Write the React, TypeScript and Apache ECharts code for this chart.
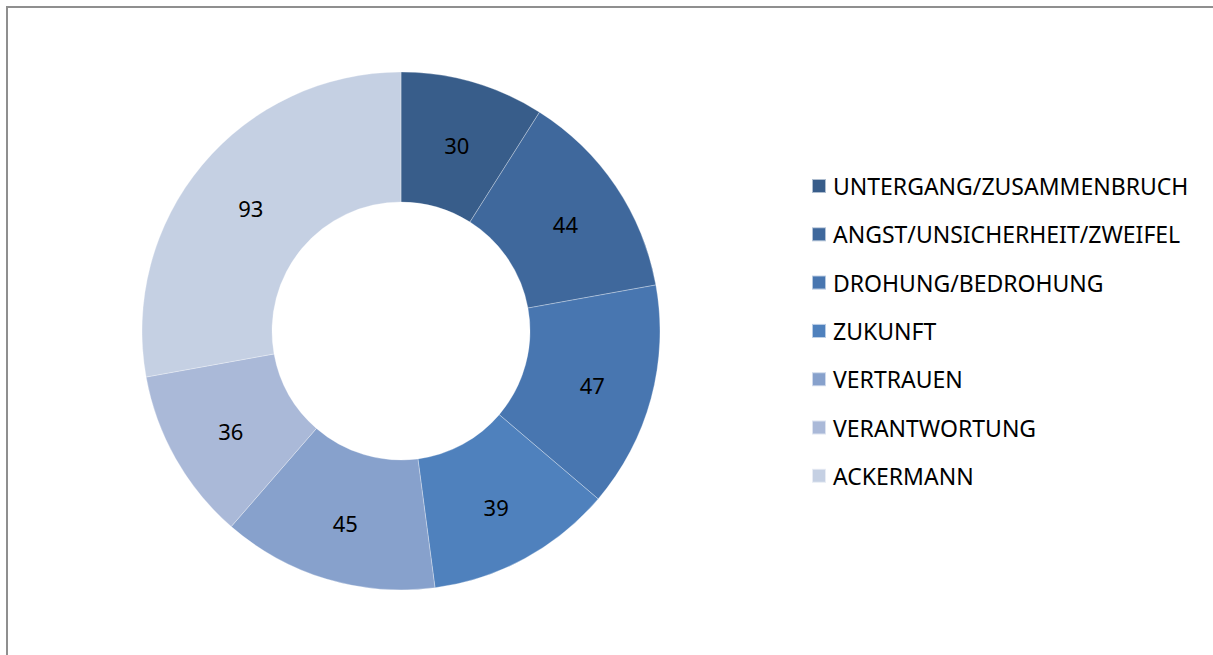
import React, { useEffect, useRef } from "react";
import * as echarts from "echarts";

const categories = [
  "UNTERGANG/ZUSAMMENBRUCH",
  "ANGST/UNSICHERHEIT/ZWEIFEL",
  "DROHUNG/BEDROHUNG",
  "ZUKUNFT",
  "VERTRAUEN",
  "VERANTWORTUNG",
  "ACKERMANN",
];
const values = [30, 44, 47, 39, 45, 36, 93];
const colors = ["#385D8A", "#3F689C", "#4876B0", "#4F81BD", "#87A1CC", "#AAB9D8", "#C5D0E3"];

export default function App() {
  const ref = useRef<HTMLDivElement>(null);
  useEffect(() => {
    if (!ref.current) return;
    const chart = echarts.init(ref.current, null, { renderer: "svg" });
    chart.setOption({
      animation: false,
      backgroundColor: "#ffffff",
      color: colors,
      graphic: [
        {
          type: "rect",
          shape: { x: 7, y: 7, width: 1300, height: 700 },
          style: { fill: "none", stroke: "#8f8f8f", lineWidth: 2 },
          silent: true,
        },
      ],
      legend: {
        orient: "vertical",
        left: 806,
        top: 169.5,
        itemWidth: 14,
        itemHeight: 14,
        itemGap: 25.3,
        icon: "rect",
        textStyle: { fontFamily: "Noto Sans", fontSize: 23, color: "#000", lineHeight: 23, padding: [0, 0, 0, 2] },
        data: categories,
      },
      series: [
        {
          type: "pie",
          center: [401, 331],
          radius: [129, 259],
          startAngle: 90,
          clockwise: true,
          itemStyle: { borderColor: "rgba(255,255,255,0.6)", borderWidth: 0.5 },
          label: {
            show: true,
            position: "inside",
            formatter: "{c}",
            fontFamily: "Noto Sans",
            fontSize: 22,
            color: "#000",
            offset: [1, 3],
          },
          labelLine: { show: false },
          emphasis: { disabled: true },
          data: categories.map((name, i) => ({ name, value: values[i] })),
        },
      ],
    });
    return () => chart.dispose();
  }, []);
  return <div ref={ref} style={{ position: "fixed", left: 0, top: 0, width: 1213, height: 655 }} />;
}
